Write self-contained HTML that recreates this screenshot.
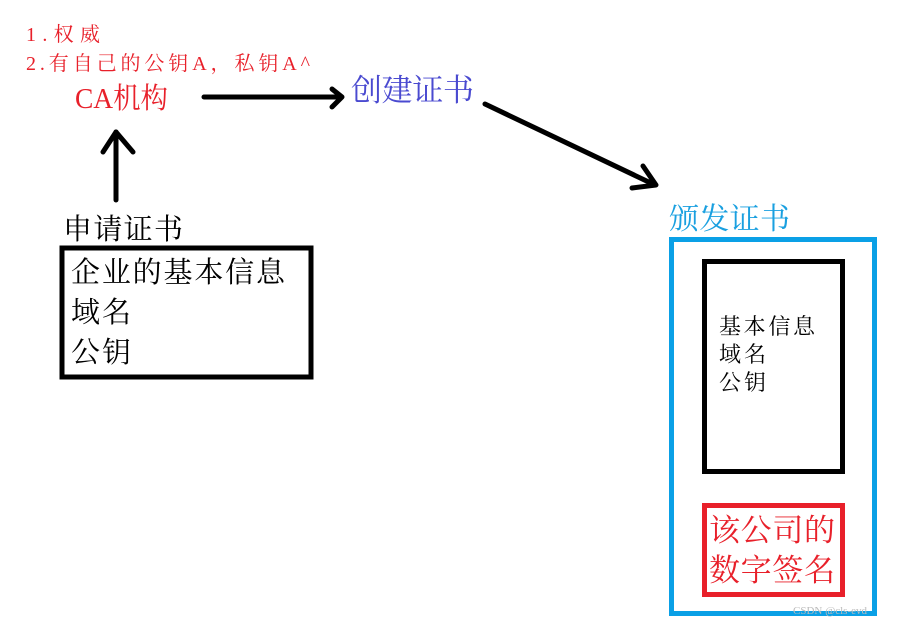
<!DOCTYPE html>
<html><head><meta charset="utf-8"><style>
html,body{margin:0;padding:0;background:#fff;width:897px;height:625px;overflow:hidden}
svg text{font-family:"Liberation Serif","Noto Serif CJK SC",serif}
</style></head><body>
<svg width="897" height="625" viewBox="0 0 897 625" xmlns="http://www.w3.org/2000/svg">
<g fill="#e8202a" font-size="20">
<text x="26" y="41" textLength="74" lengthAdjust="spacing">1.权威</text>
<text x="26" y="70" textLength="284" lengthAdjust="spacing">2.有自己的公钥A，私钥A^</text>
</g>
<text x="75" y="108" font-size="29" fill="#e8202a" textLength="93" lengthAdjust="spacingAndGlyphs">CA机构</text>
<text x="351" y="101" font-size="31" fill="#4a4ad0" textLength="123" lengthAdjust="spacing">创建证书</text>
<text x="63" y="239" font-size="29" fill="#000" textLength="120" lengthAdjust="spacing">申请证书</text>
<g stroke="#000" stroke-width="5" fill="none" stroke-linecap="round" stroke-linejoin="round">
<line x1="204" y1="97" x2="340" y2="97"/>
<polyline points="332,89 342,97 332,107"/>
<line x1="116" y1="200" x2="116" y2="132"/>
<polyline points="103,152 116,132 133,152"/>
<line x1="485" y1="104" x2="655" y2="185"/>
<polyline points="632,188 656,185 643,166"/>
</g>
<rect x="62" y="248" width="249" height="129" fill="none" stroke="#000" stroke-width="5"/>
<g font-size="29" fill="#000">
<text x="71" y="282" textLength="214" lengthAdjust="spacing">企业的基本信息</text>
<text x="71" y="322" textLength="60" lengthAdjust="spacing">域名</text>
<text x="71" y="362" textLength="60" lengthAdjust="spacing">公钥</text>
</g>
<text x="669" y="229" font-size="30" fill="#1aa0e0" textLength="121" lengthAdjust="spacing">颁发证书</text>
<rect x="671.5" y="239.5" width="203" height="374" fill="none" stroke="#0aa0e6" stroke-width="5"/>
<rect x="704.5" y="261.5" width="138" height="210" fill="none" stroke="#000" stroke-width="5"/>
<g font-size="22" fill="#000">
<text x="719" y="334" textLength="96" lengthAdjust="spacing">基本信息</text>
<text x="719" y="362" textLength="47" lengthAdjust="spacing">域名</text>
<text x="719" y="390" textLength="47" lengthAdjust="spacing">公钥</text>
</g>
<rect x="704.5" y="505.5" width="138" height="89" fill="none" stroke="#e8202a" stroke-width="5"/>
<g font-size="31" fill="#e8202a">
<text x="709" y="541" textLength="126" lengthAdjust="spacing">该公司的</text>
<text x="709" y="581" textLength="126" lengthAdjust="spacing">数字签名</text>
</g>
<text x="793" y="614" font-size="11" fill="#bbb" font-family="Liberation Sans,sans-serif">CSDN @cls-evd</text>
</svg>
</body></html>
